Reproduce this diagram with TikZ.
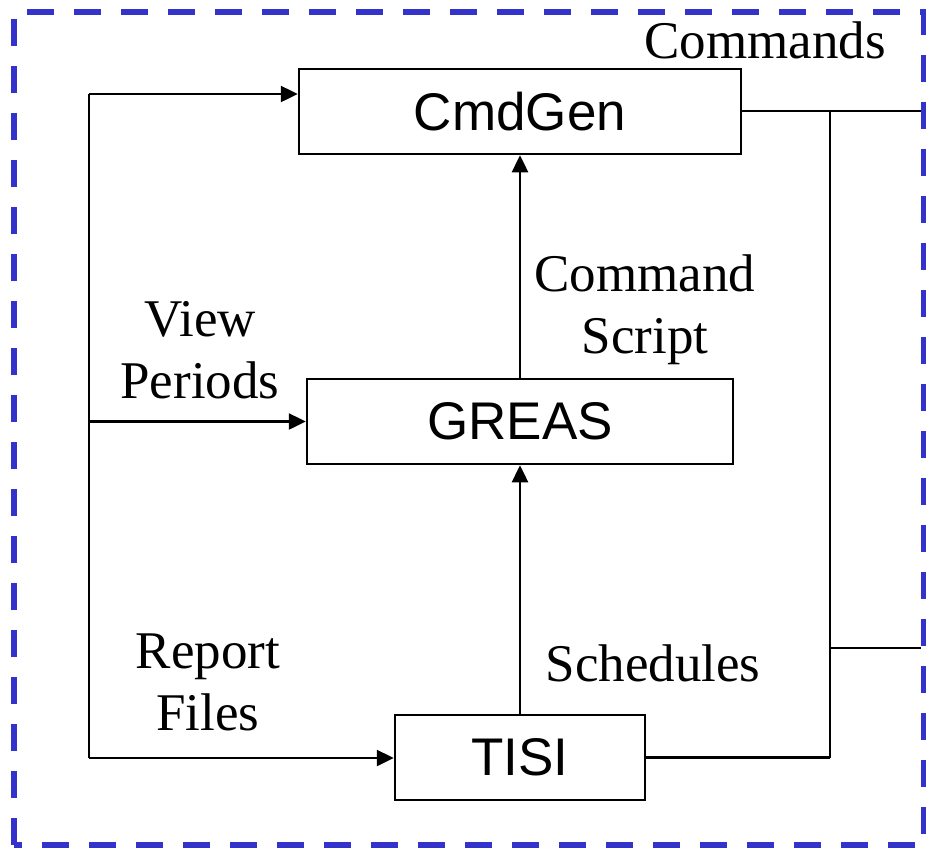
\documentclass[tikz,border=0pt]{standalone}
\usepackage{fontspec}
\setmainfont{Liberation Serif}
\newfontfamily\boxfont{Liberation Sans}
\usetikzlibrary{arrows.meta}
\definecolor{frameblue}{RGB}{51,51,204}
\tikzset{
  procbox/.style={draw=black, line width=2.5pt, inner sep=0pt, font=\boxfont\fontsize{53}{63}\selectfont, anchor=center},
  conn/.style={draw=black, line width=2.5pt},
  arr/.style={conn, -{Triangle[length=17pt,width=16pt]}},
  lbl/.style={align=center, font=\fontsize{53}{62}\selectfont, inner sep=0pt},
  frame/.style={draw=frameblue, line width=6pt, dash pattern=on 27pt off 20pt}
}
\begin{document}
\begin{tikzpicture}[x={(1pt,0)}, y={(0,-1pt)}]
\useasboundingbox (0,0) rectangle (926,847);
\path[frame] (14,845) -- (14,12) -- (924,12) -- (924,845) -- cycle;

\node[procbox, minimum width=442pt, minimum height=85pt] (cmdgen) at (520,111.5) {CmdGen};
\node[procbox, minimum width=426pt, minimum height=85pt] (greas) at (520,421.5) {GREAS};
\node[procbox, minimum width=250pt, minimum height=85pt] (tisi) at (520,757.5) {TISI};

\coordinate (lt) at (89,94);
\coordinate (lb) at (89,758);
\coordinate (lm) at (89,421.5);
\coordinate (out1) at (921,111);
\coordinate (j1) at (830,111);
\coordinate (j2) at (830,757.5);
\coordinate (j3) at (830,648);
\coordinate (out2) at (921,648);

\draw[conn] (lb) -- (lt);
\draw[arr] (lt) -- (lt -| cmdgen.west);
\draw[arr] (lm) -- (greas.west);
\draw[arr] (lb) -- (lb -| tisi.west);

\draw[arr] (greas.north) -- (cmdgen.south);
\draw[arr] (tisi.north) -- (greas.south);

\draw[conn] (cmdgen.east |- out1) -- (out1);
\draw[conn] (j1) -- (j2);
\draw[conn] (tisi.east) -- (j2);
\draw[conn] (j3) -- (out2);

\node[lbl] (commands) at (765,40) {Commands};
\node[lbl] (cmdscript) at (645,310) {Command\\Script};
\node[lbl] (viewper) at (200,350) {View\\Periods};
\node[lbl] (sched) at (653,663) {Schedules};
\node[lbl] (report) at (208,682) {Report\\Files};
\end{tikzpicture}
\end{document}
